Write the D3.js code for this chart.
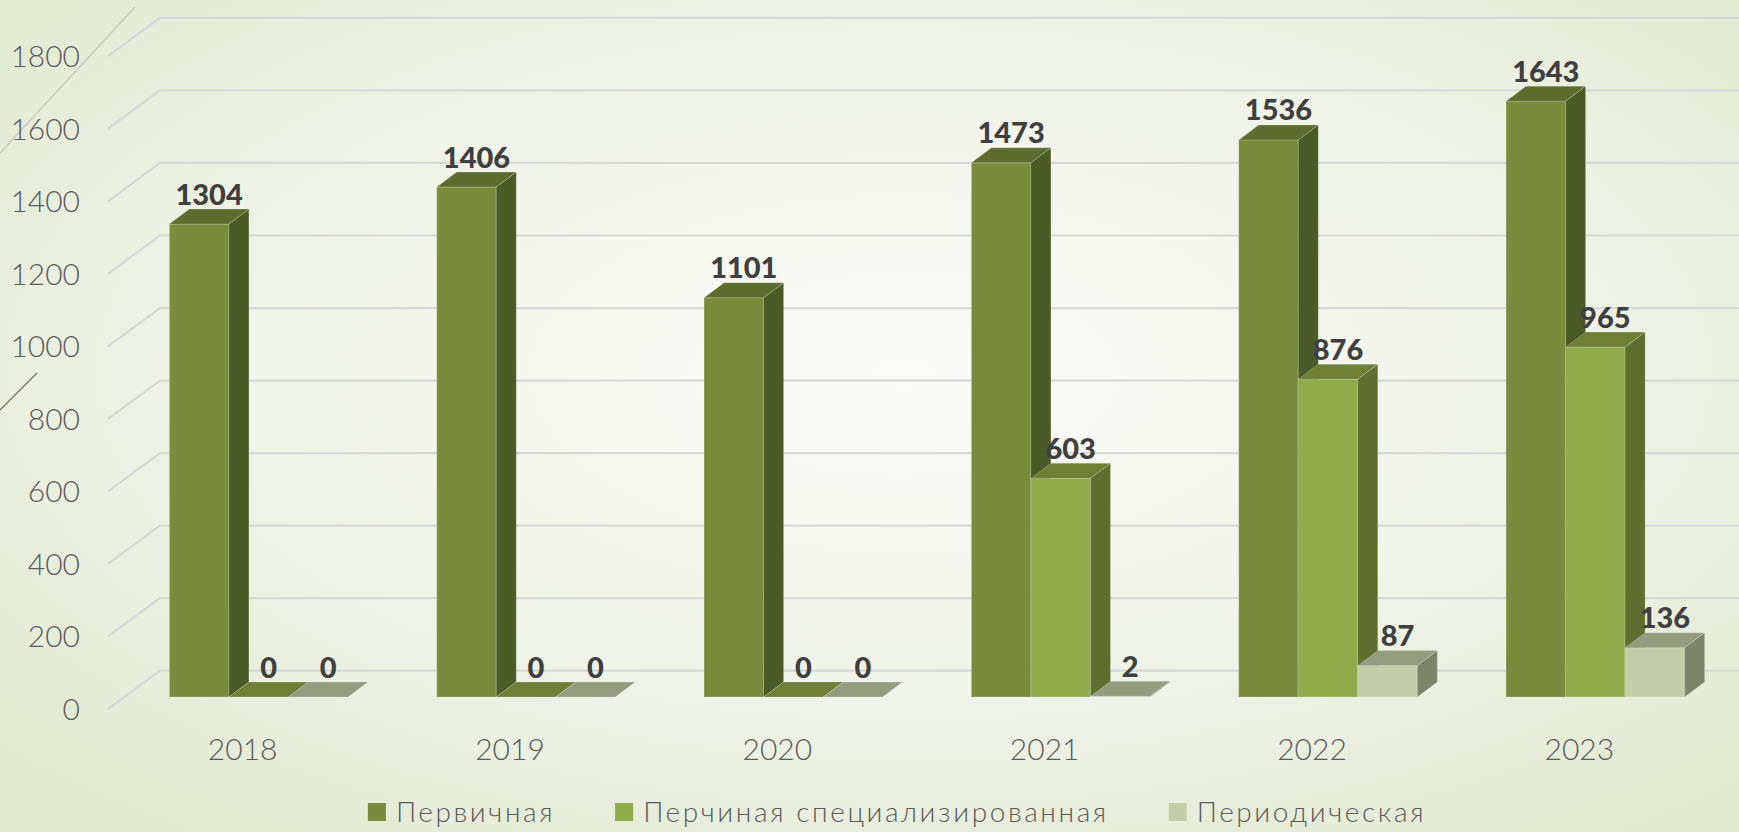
<!DOCTYPE html>
<html>
<head>
<meta charset="utf-8">
<script src="https://cdn.jsdelivr.net/npm/d3@7"></script>
<style>
  html, body { margin: 0; padding: 0; overflow: hidden; }
  body { width: 1739px; height: 832px; }
  svg { display: block; }
</style>
</head>
<body>
<svg id="chart" width="1739" height="832"></svg>
<script>
var years = ["2018", "2019", "2020", "2021", "2022", "2023"];
var seriesNames = ["Первичная", "Перчиная специализированная", "Периодическая"];
var primary = [1304, 1406, 1101, 1473, 1536, 1643];
var specialized = [0, 0, 0, 603, 876, 965];
var periodic = [0, 0, 0, 2, 87, 136];
var yTicks = [0, 200, 400, 600, 800, 1000, 1200, 1400, 1600, 1800];

var seriesValues = [primary, specialized, periodic];
var fronts = ["#7a8b3c", "#93aa4c", "#c3cdaa"];
var tops = ["#5e6c2e", "#6f8036", "#959c80"];
var sides = ["#4b5a26", "#5f6e2f", "#7c846a"];

var W = 1739, H = 832;
// depth of a bar and offsets of floor front / back wall relative to the bar plane
var bdx = 20, bdy = -15;
var frontDx = -17, frontDy = 12;
var backDx = 35, backDy = -26.3;

var svg = d3.select("#chart");

// background
var defs = svg.append("defs");
var grad = defs.append("radialGradient")
    .attr("id", "bg")
    .attr("cx", "52%").attr("cy", "45%").attr("r", "70%");
grad.append("stop").attr("offset", "0%").attr("stop-color", "#fbfbf9");
grad.append("stop").attr("offset", "55%").attr("stop-color", "#f0f3e8");
grad.append("stop").attr("offset", "100%").attr("stop-color", "#e1e9cf");
svg.append("rect").attr("width", W).attr("height", H).attr("fill", "url(#bg)");

// theme decoration lines
svg.append("line").attr("x1", 135).attr("y1", 7).attr("x2", 0).attr("y2", 153)
    .attr("stroke", "#c9cbb6").attr("stroke-width", 1.4);
svg.append("line").attr("x1", 37).attr("y1", 373).attr("x2", 0).attr("y2", 410)
    .attr("stroke", "#7f7b62").attr("stroke-width", 1.4);

var x = d3.scaleBand().domain(years).range([125, 1729])
    .paddingInner(0.332).paddingOuter(0.166);
var xs = d3.scaleBand().domain(d3.range(seriesNames.length)).range([0, x.bandwidth()]);
var y = d3.scaleLinear().domain([0, 1800]).range([697, 44.2]);

// gridlines (floor edge + back wall)
var grid = svg.append("g");
yTicks.forEach(function(v) {
    var yy = y(v);
    grid.append("polyline")
        .attr("points", [
            [x.range()[0] + frontDx, yy + frontDy],
            [x.range()[0] + backDx, yy + backDy],
            [W, yy + backDy]
        ].join(" "))
        .attr("fill", "none")
        .attr("stroke", "#d8d9d6")
        .attr("stroke-width", 2.2);
});

// y tick labels
svg.append("g").selectAll("text")
    .data(yTicks)
    .enter().append("text")
    .attr("x", 80)
    .attr("y", function(d) { return y(d) + frontDy; })
    .attr("dy", "0.36em")
    .attr("text-anchor", "end")
    .style("font-family", "Lato, 'Open Sans', sans-serif")
    .style("font-weight", 300)
    .style("font-size", "30px")
    .style("fill", "#5a5a5a")
    .text(function(d) { return d; });

// x labels
svg.append("g").selectAll("text")
    .data(years)
    .enter().append("text")
    .attr("x", function(d) { return x(d) + x.bandwidth() / 2 + frontDx + 1; })
    .attr("y", y(0) + 63)
    .attr("text-anchor", "middle")
    .style("font-family", "Lato, 'Open Sans', sans-serif")
    .style("font-weight", 300)
    .style("font-size", "30px")
    .style("fill", "#5a5a5a")
    .text(function(d) { return d; });

// bars
var bars = [];
years.forEach(function(yr, i) {
    seriesValues.forEach(function(vals, s) {
        bars.push({ year: yr, s: s, v: vals[i] });
    });
});

var barG = svg.append("g");
bars.forEach(function(b) {
    var x0 = x(b.year) + xs(b.s), w = xs.bandwidth();
    var y0 = y(0), y1 = y(b.v);
    var g = barG.append("g");
    if (y0 - y1 > 0.5) {
        g.append("rect")
            .attr("x", x0).attr("y", y1).attr("width", w).attr("height", y0 - y1)
            .attr("fill", fronts[b.s])
            .attr("stroke", "rgba(255,255,255,0.22)").attr("stroke-width", 1);
        g.append("polygon")
            .attr("points", [[x0 + w, y1], [x0 + w + bdx, y1 + bdy], [x0 + w + bdx, y0 + bdy], [x0 + w, y0]].join(" "))
            .attr("fill", sides[b.s])
            .attr("stroke", "rgba(255,255,255,0.15)").attr("stroke-width", 1);
    }
    g.append("polygon")
        .attr("points", [[x0, y1], [x0 + bdx, y1 + bdy], [x0 + w + bdx, y1 + bdy], [x0 + w, y1]].join(" "))
        .attr("fill", tops[b.s])
        .attr("stroke", "rgba(255,255,255,0.18)").attr("stroke-width", 1);
});

// value labels
svg.append("g").selectAll("text")
    .data(bars)
    .enter().append("text")
    .attr("x", function(d) { return x(d.year) + xs(d.s) + xs.bandwidth() / 2 + bdx / 2; })
    .attr("y", function(d) { return y(d.v) + bdy - 4.5; })
    .attr("text-anchor", "middle")
    .style("font-family", "Lato, 'Open Sans', sans-serif")
    .style("font-weight", 900)
    .style("font-size", "29px")
    .style("fill", "#3f3f3f")
    .text(function(d) { return d.v; });

// legend
var legend = svg.append("g");
var items = legend.selectAll("g")
    .data(seriesNames)
    .enter().append("g");
items.append("rect")
    .attr("x", 0).attr("y", 803).attr("width", 18).attr("height", 18)
    .attr("fill", function(d, i) { return fronts[i]; });
items.append("text")
    .attr("x", 28).attr("y", 822)
    .style("font-family", "Lato, 'Open Sans', sans-serif")
    .style("font-weight", 300)
    .style("font-size", "28px")
    .style("letter-spacing", "2.6px")
    .style("fill", "#5a5a5a")
    .text(function(d) { return d; });

var gap = 60, pos = 0, offsets = [];
items.each(function() {
    offsets.push(pos);
    pos += 28 + this.querySelector("text").getComputedTextLength() + gap;
});
var total = pos - gap;
var start = 897 - total / 2;
items.attr("transform", function(d, i) { return "translate(" + (start + offsets[i]) + ",0)"; });
</script>
</body>
</html>
